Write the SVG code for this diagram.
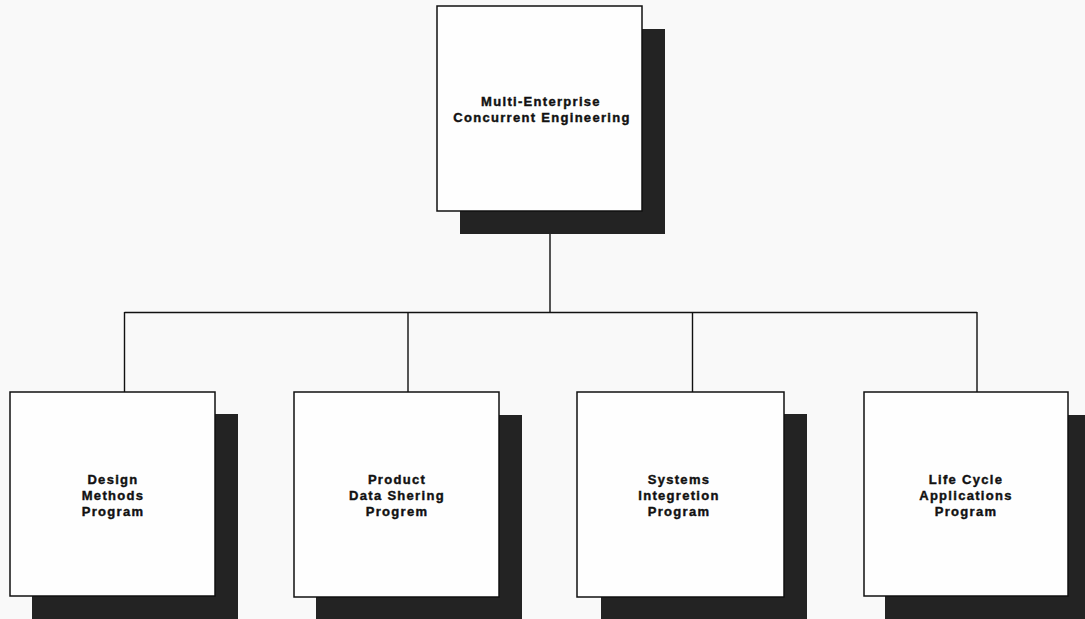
<svg xmlns="http://www.w3.org/2000/svg" width="1085" height="619" viewBox="0 0 1085 619">
<style>
.shadow{fill:#232323}
.box{fill:#fefefe;stroke:#111;stroke-width:1.5}
.lbl{font-family:"Liberation Sans",Arial,sans-serif;font-weight:700;font-size:13px;letter-spacing:1.3px;fill:#111;stroke:#111;stroke-width:0.4;text-anchor:middle}
.conn{stroke:#111;stroke-width:1.4;fill:none}
</style>
<rect width="1085" height="619" fill="#f9f9f9"/>
<g id="connectors">
<path class="conn" d="M550 234V312.5M124.5 312.5H977M124.5 312V392M408 312V392M692.5 312V392M977 312V392"/>
</g>
<g id="top">
<rect class="shadow" x="460" y="29" width="205" height="205"/>
<rect class="box" x="437" y="6" width="205" height="205"/>
<text class="lbl" x="541" y="106">Multi-Enterprise</text>
<text class="lbl" x="542" y="122">Concurrent  Engineering</text>
</g>
<g id="design">
<rect class="shadow" x="32" y="414" width="206" height="205"/>
<rect class="box" x="10" y="392" width="205" height="204"/>
<text class="lbl" x="113" y="484">Design</text>
<text class="lbl" x="113" y="500">Methods</text>
<text class="lbl" x="113" y="516">Program</text>
</g>
<g id="pds">
<rect class="shadow" x="316" y="415" width="206" height="204"/>
<rect class="box" x="294" y="392" width="205" height="205"/>
<text class="lbl" x="397" y="484">Product</text>
<text class="lbl" x="397" y="500">Data  Shering</text>
<text class="lbl" x="397" y="516">Progrem</text>
</g>
<g id="si">
<rect class="shadow" x="601" y="414" width="206" height="205"/>
<rect class="box" x="577" y="392" width="207" height="205"/>
<text class="lbl" x="679" y="484">Systems</text>
<text class="lbl" x="679" y="500">Integretion</text>
<text class="lbl" x="679" y="516">Program</text>
</g>
<g id="lca">
<rect class="shadow" x="885" y="415" width="200" height="204"/>
<rect class="box" x="864" y="392" width="204" height="204"/>
<text class="lbl" x="966" y="484">Life Cycle</text>
<text class="lbl" x="966" y="500">Applications</text>
<text class="lbl" x="966" y="516">Program</text>
</g>
</svg>
